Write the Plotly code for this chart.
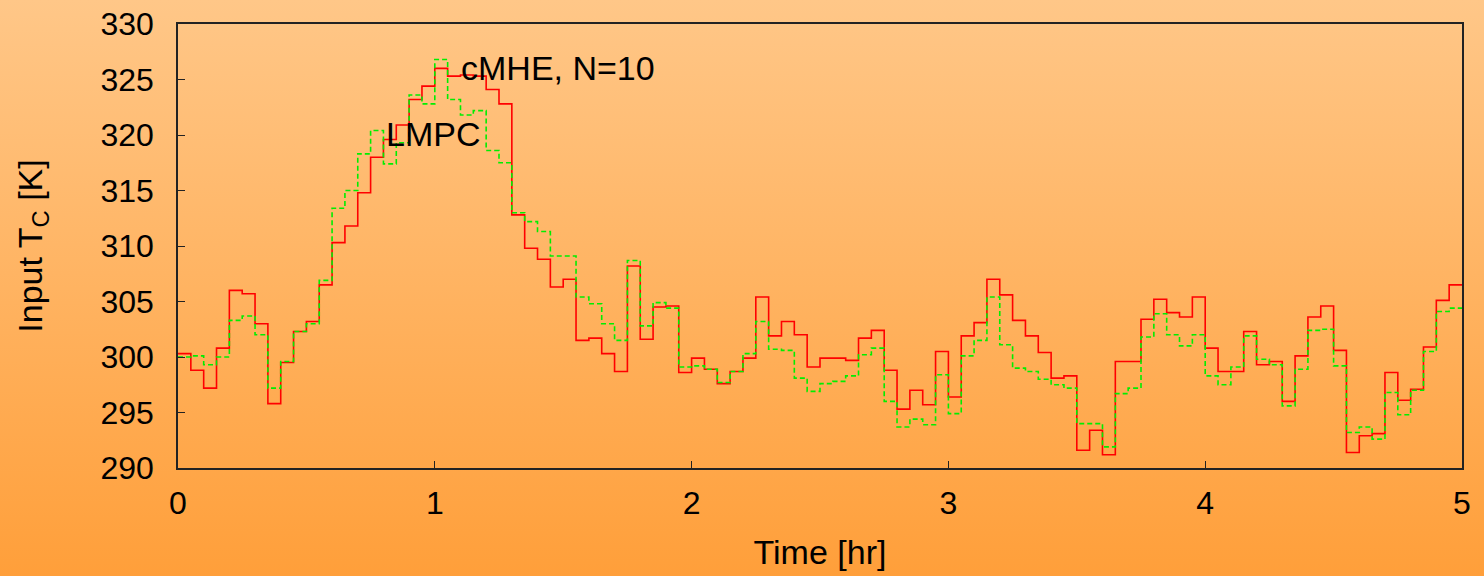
import base64
import numpy as np
import plotly.graph_objects as go

# Sampling interval of the controller (hours) and the piecewise-constant inputs
dt = 0.05

lmpc_tc = [
    300.3, 298.8, 297.2, 300.8, 306.0, 305.7, 303.0, 295.8, 299.5, 302.3,
    303.2, 306.5, 310.3, 311.8, 314.8, 318.0, 319.6, 320.9, 323.2, 324.4,
    326.0, 325.3, 325.4, 325.3, 324.1, 322.8, 312.8, 309.8, 308.8, 306.3,
    307.0, 301.5, 301.7, 300.3, 298.7, 308.2, 301.6, 304.5, 304.6, 298.6,
    299.9, 298.9, 297.6, 298.7, 299.9, 305.4, 301.9, 303.2, 302.0, 299.1,
    299.9, 299.9, 299.7, 301.7, 302.4, 298.8, 295.3, 297.0, 295.7, 300.5,
    296.4, 301.9, 303.1, 307.0, 305.6, 303.3, 301.9, 300.4, 298.1, 298.3,
    291.6, 293.4, 291.2, 299.6, 299.6, 303.4, 305.2, 304.0, 303.6, 305.4,
    300.8, 298.7, 298.7, 302.3, 299.3, 299.6, 296.0, 300.1, 303.6, 304.6,
    300.6, 291.4, 292.9, 293.1, 298.6, 296.1, 297.1, 300.9, 305.1, 306.5,
]

cmhe_tc = [
    300.0, 300.1, 299.3, 300.0, 303.3, 303.7, 302.0, 297.2, 299.6, 302.3,
    303.0, 306.9, 313.4, 315.0, 318.3, 320.4, 317.4, 319.3, 323.6, 322.8,
    326.8, 323.2, 321.8, 322.2, 318.6, 317.5, 313.0, 312.2, 311.3, 309.1,
    309.1, 305.4, 304.8, 303.0, 301.5, 308.7, 302.8, 304.9, 304.4, 299.1,
    299.2, 298.9, 297.7, 298.7, 300.3, 303.2, 300.7, 300.6, 298.1, 296.9,
    297.6, 297.8, 298.3, 300.2, 300.8, 296.0, 293.7, 294.4, 293.9, 298.4,
    294.9, 300.1, 301.5, 305.4, 301.1, 299.0, 298.7, 298.0, 297.5, 297.2,
    294.0, 294.0, 291.9, 296.7, 297.2, 301.8, 303.9, 302.0, 301.0, 302.0,
    298.3, 297.5, 299.1, 301.9, 299.8, 299.3, 295.6, 298.9, 302.4, 302.5,
    299.2, 293.2, 293.7, 292.6, 296.8, 294.8, 297.0, 300.5, 304.1, 304.4,
]

x_ticks = [0, 1, 2, 3, 4, 5]
y_ticks = [290, 295, 300, 305, 310, 315, 320, 325, 330]

# Step edges: each value is held over one sampling interval
t_edges = np.arange(len(lmpc_tc) + 1) * dt


def held(values):
    return list(values) + [values[-1]]


W, H = 1484, 576
ML, MR, MT, MB = 178, 22, 24, 108
PW, PH = W - ML - MR, H - MT - MB

FONT = "Liberation Sans, Arial, Helvetica, sans-serif"

# Vertical orange gradient for the whole canvas
svg = (
    f'<svg xmlns="http://www.w3.org/2000/svg" width="{W}" height="{H}" '
    f'preserveAspectRatio="none" viewBox="0 0 {W} {H}">'
    '<defs><linearGradient id="g" x1="0" y1="0" x2="0" y2="1">'
    '<stop offset="0" stop-color="#FFC788"/>'
    '<stop offset="1" stop-color="#FF9F3A"/>'
    '</linearGradient></defs>'
    f'<rect width="{W}" height="{H}" fill="url(#g)"/></svg>'
)
bg_src = "data:image/svg+xml;base64," + base64.b64encode(svg.encode()).decode()

fig = go.Figure()

fig.add_trace(go.Scatter(
    x=t_edges, y=held(lmpc_tc), mode="lines", name="LMPC",
    line=dict(color="#FF0000", width=1.6, shape="hv"),
))
fig.add_trace(go.Scatter(
    x=t_edges, y=held(cmhe_tc), mode="lines", name="cMHE, N=10",
    line=dict(color="#00EE00", width=1.6, shape="hv", dash="5px,3px"),
))

fig.add_annotation(x=1.095, y=326.0, xref="x", yref="y", text="cMHE, N=10",
                   showarrow=False, xanchor="left", yanchor="middle",
                   font=dict(family=FONT, size=34, color="black"))
fig.add_annotation(x=0.803, y=320.1, xref="x", yref="y", text="LMPC",
                   showarrow=False, xanchor="left", yanchor="middle",
                   font=dict(family=FONT, size=34, color="black"))

fig.add_layout_image(dict(
    source=bg_src, xref="paper", yref="paper",
    x=-ML / PW, y=1 + MT / PH, sizex=W / PW, sizey=H / PH,
    xanchor="left", yanchor="top", sizing="stretch", layer="below",
))

axis_common = dict(
    showgrid=False, zeroline=False, showline=True, mirror=True,
    linecolor="#222222", linewidth=1.5,
    ticks="inside", ticklen=7, tickwidth=1.3, tickcolor="#222222",
    tickfont=dict(family=FONT, size=32, color="black"),
)

fig.update_layout(
    width=W, height=H,
    margin=dict(l=ML, r=MR, t=MT, b=MB, autoexpand=False),
    paper_bgcolor="rgba(0,0,0,0)", plot_bgcolor="rgba(0,0,0,0)",
    showlegend=False,
    font=dict(family=FONT, color="black"),
    xaxis=dict(range=[0, 5], tickvals=x_ticks, ticklabelstandoff=6,
               title=dict(text="Time [hr]", standoff=20,
                          font=dict(family=FONT, size=34, color="black")),
               **axis_common),
    yaxis=dict(range=[290, 330], tickvals=y_ticks, ticklabelstandoff=16,
               title=dict(text="Input T<sub>C</sub> [K]", standoff=48,
                          font=dict(family=FONT, size=34, color="black")),
               **axis_common),
)

fig.write_html("out.html")
